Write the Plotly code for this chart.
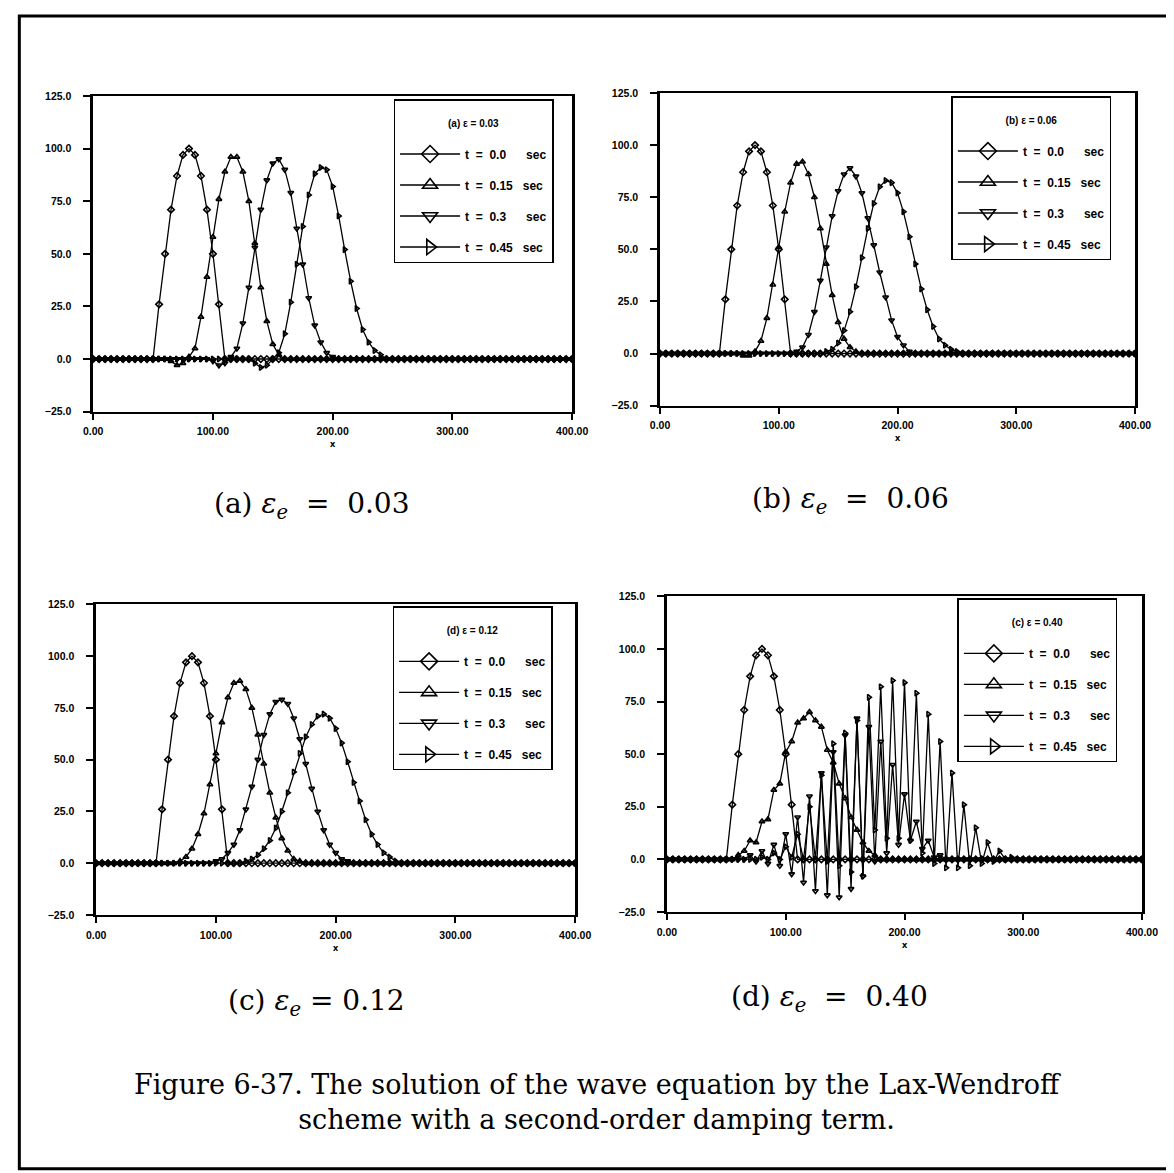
import plotly.graph_objects as go

# sample grid along x (dx = 5)
X_GRID = list(range(0, 405, 5))

TIMES = ["t\u00a0\u00a0=\u00a0\u00a00.0\u00a0\u00a0\u00a0\u00a0\u00a0\u00a0sec",
         "t\u00a0\u00a0=\u00a0\u00a00.15\u00a0\u00a0\u00a0sec",
         "t\u00a0\u00a0=\u00a0\u00a00.3\u00a0\u00a0\u00a0\u00a0\u00a0\u00a0sec",
         "t\u00a0\u00a0=\u00a0\u00a00.45\u00a0\u00a0\u00a0sec"]
SYMBOLS = ["diamond-open", "triangle-up-open", "triangle-down-open", "triangle-right-open"]

# initial pulse (same in all panels), starts at x = 50
T0_START = 50
T0_VALS = [0, 26, 50, 71, 87, 97, 100, 97, 87, 71, 50, 26, 0]

# (a) eps = 0.03
A_STARTS = [60, 95, 130]
A_T015 = [0, -1, -3, -2, 1, 5, 20, 39, 58, 76, 89, 96, 96, 89, 75, 55, 34, 18, 7, 2, 0]
A_T030 = [0, -1, -3, -2, 1, 5, 17, 34, 53, 71, 85, 93, 95, 90, 79, 62, 45, 29, 16, 8, 3, 1, 0]
A_T045 = [0, -2, -4, -3, 0, 3, 12, 27, 45, 63, 78, 88, 91, 90, 82, 68, 52, 37, 24, 14, 8, 4, 2, 0]

# (b) eps = 0.06
B_STARTS = [70, 110, 135]
B_T015 = [-1, -1, 1, 6, 17, 33, 51, 68, 82, 91, 92, 86, 75, 60, 43, 28, 15, 7, 3, 1, 0]
B_T030 = [0, 1, 3, 9, 20, 35, 51, 66, 78, 86, 89, 85, 77, 65, 52, 39, 27, 16, 8, 4, 1, 0]
B_T045 = [0, 1, 2, 5, 11, 20, 32, 46, 60, 72, 80, 83, 82, 77, 68, 56, 43, 31, 21, 13, 7, 4, 2, 1, 0]

# (c) eps = 0.12
C_STARTS = [65, 95, 120]
C_T015 = [0, 1, 3, 7, 14, 24, 38, 53, 68, 80, 87, 88, 84, 75, 62, 48, 34, 22, 12, 6, 2, 1, 0]
C_T030 = [0, 1, 2, 5, 9, 16, 26, 37, 50, 62, 72, 78, 79, 77, 70, 60, 48, 36, 25, 16, 9, 5, 2, 1, 0]
C_T045 = [0, 1, 2, 4, 7, 11, 17, 25, 34, 44, 53, 61, 67, 71, 72, 70, 65, 58, 49, 39, 30, 21, 14, 9, 5, 3, 1, 0]

# (d) eps = 0.40
D_STARTS = [55, 65, 80]
D_T015 = [0, 2, 4, 9, 8, 18, 19, 33, 36, 51, 56, 65, 67, 70, 66, 63, 52, 46, 36, 29, 20, 14, 8, 4, 2, 0]
D_T030 = [0, 2, -1, 4, -2, 7, -3, 12, -7, 20, -11, 30, -15, 41, -17, 51, -18, 59, -14, 67, -8, 63,
          -1, 56, 3, 45, 7, 31, 9, 18, 5, 9, 1, 2, 0]
D_T045 = [1, 0, 3, 0, 6, 1, 12, 0, 25, 0, 40, -1, 55, -3, 60, -6, 66, -8, 77, 14, 82, 10, 85, 10,
          84, 9, 79, 3, 69, -2, 56, -4, 41, -4, 26, -3, 15, -2, 8, -1, 4, 0, 1, 0]

PANEL_TITLES = ["(a) \u03b5 = 0.03", "(b) \u03b5 = 0.06", "(d) \u03b5 = 0.12", "(c) \u03b5 = 0.40"]
CAPTIONS = ["(a) <i>\u03b5<sub>e</sub></i>\u00a0\u00a0=\u00a0\u00a00.03",
            "(b) <i>\u03b5<sub>e</sub></i>\u00a0\u00a0=\u00a0\u00a00.06",
            "(c) <i>\u03b5<sub>e</sub></i>\u00a0=\u00a00.12",
            "(d) <i>\u03b5<sub>e</sub></i>\u00a0\u00a0=\u00a0\u00a00.40"]
Y_TICKS = [-25, 0, 25, 50, 75, 100, 125]
X_TICKS = [0, 100, 200, 300, 400]

# page placement of the figure as seen in the snapshot (scale and offset)
SX, BX = 0.98, 17
SY, BY = 0.991, 13
W, H = 1180, 1170


def pad(start, vals):
    y = [0.0] * len(X_GRID)
    i0 = X_GRID.index(start)
    for i, v in enumerate(vals):
        y[i0 + i] = v
    return y


def px(v):
    return (v / SX - BX) / W


def py(v):
    return 1 - (v / SY - BY) / H


panels = [
    (A_STARTS, [A_T015, A_T030, A_T045]),
    (B_STARTS, [B_T015, B_T030, B_T045]),
    (C_STARTS, [C_T015, C_T030, C_T045]),
    (D_STARTS, [D_T015, D_T030, D_T045]),
]

# plot-area boxes in page pixels: left, right, top, bottom
boxes = [(92, 572, 95, 411), (660, 1136, 92, 405), (95, 575, 604, 915), (667, 1143, 596, 912)]
legend_pos = [(393, 98), (952, 95), (392, 606), (958, 598)]
caption_pos = [(311, 505), (851, 500), (316, 1003), (830, 999)]

tick_font = dict(family="Liberation Sans Narrow, Liberation Sans, Arial", size=10.5,
                 color="black", weight="bold")

fig = go.Figure()
layout = {}

for k, (starts, series) in enumerate(panels):
    n = "" if k == 0 else str(k + 1)
    xa, ya = "x" + n, "y" + n
    lg = "legend" + n
    ys = [pad(T0_START, T0_VALS)] + [pad(s, v) for s, v in zip(starts, series)]
    for j, y in enumerate(ys):
        fig.add_trace(go.Scatter(
            x=X_GRID, y=y, xaxis=xa, yaxis=ya, mode="lines+markers",
            line=dict(color="black", width=1.3),
            marker=dict(symbol=SYMBOLS[j], size=5, color="black",
                        line=dict(color="black", width=1.6)),
            showlegend=False, hoverinfo="skip"))
    # legend entries with larger symbols
    for j in range(4):
        fig.add_trace(go.Scatter(
            x=[None], y=[None], xaxis=xa, yaxis=ya, mode="lines+markers",
            name=TIMES[j], legend=lg, legendgroup=f"g{k}{j}",
            line=dict(color="black", width=1.3),
            marker=dict(symbol=SYMBOLS[j], size=13, color="black",
                        line=dict(color="black", width=1.6))))

    l, r, t, b = boxes[k]
    layout["xaxis" + n] = dict(
        domain=[px(l), px(r)], anchor=ya, range=[0, 400], tickvals=X_TICKS,
        tickformat=".2f", ticks="outside", ticklen=6, tickwidth=1.5, tickcolor="black",
        showline=True, linecolor="black", linewidth=2, mirror=True,
        showgrid=False, zeroline=False, tickfont=tick_font, ticklabelstandoff=3,
        title=dict(text="x", font=dict(size=9, weight="bold", color="black"), standoff=4))
    layout["yaxis" + n] = dict(
        domain=[py(b), py(t)], anchor=xa, range=[-25, 125], tickvals=Y_TICKS,
        tickformat=".1f", ticks="outside", ticklen=7, tickwidth=1.5, tickcolor="black",
        showline=True, linecolor="black", linewidth=2.5, mirror=True,
        showgrid=False, zeroline=False, tickfont=tick_font, ticklabelstandoff=10)
    lx, ly = legend_pos[k]
    layout[lg] = dict(
        x=px(lx), y=py(ly), xanchor="left", yanchor="top", xref="paper", yref="paper",
        bgcolor="white", bordercolor="black", borderwidth=1.5,
        font=dict(family="Liberation Sans", size=12, color="black", weight="bold"),
        title=dict(text="\u00a0<br>" + PANEL_TITLES[k] + "<br>\u00a0", side="top center",
                   font=dict(family="Liberation Sans", size=10, weight="bold")),
        tracegroupgap=12, itemwidth=60, traceorder="grouped")

annotations = []
for k in range(4):
    cx, cy = caption_pos[k]
    annotations.append(dict(
        text=CAPTIONS[k], x=px(cx), y=py(cy), xref="paper", yref="paper",
        xanchor="center", yanchor="middle", showarrow=False,
        font=dict(family="DejaVu Serif", size=28, color="black")))

annotations.append(dict(
    text="Figure 6-37. The solution of the wave equation by the Lax-Wendroff"
         "<br>scheme with a second-order damping term.",
    x=px(597), y=py(1102), xref="paper", yref="paper", xanchor="center", yanchor="middle",
    showarrow=False, font=dict(family="DejaVu Serif", size=27, color="black")))

shapes = [dict(type="rect", xref="paper", yref="paper", x0=px(18), x1=px(1170),
               y0=py(1169), y1=py(15), line=dict(color="black", width=3))]

fig.update_layout(
    width=W, height=H, margin=dict(l=0, r=0, t=0, b=0),
    paper_bgcolor="white", plot_bgcolor="white",
    annotations=annotations, shapes=shapes, **layout)

fig.write_html("out.html")
